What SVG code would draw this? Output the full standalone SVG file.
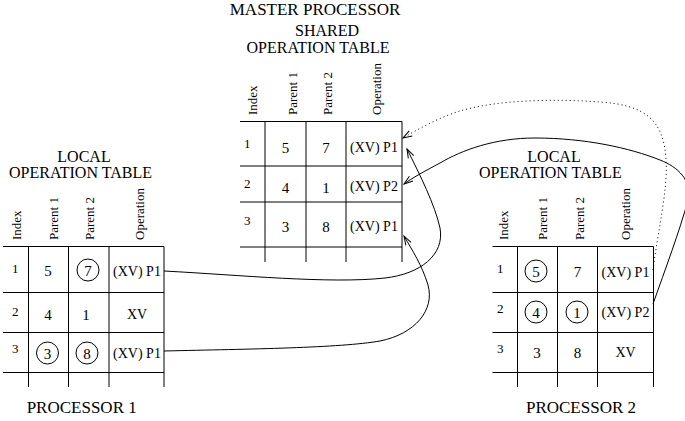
<svg xmlns="http://www.w3.org/2000/svg" width="685" height="421" viewBox="0 0 685 421">
<style>
text{font-family:"Liberation Serif","Times New Roman",serif;fill:#000}
.t{font-size:16px;text-anchor:middle}
.h{font-size:13px}
.i{font-size:13px}
.v{font-size:15px;text-anchor:middle}
.o{font-size:14px;text-anchor:middle}
.g{stroke:#000;stroke-width:1;fill:none}
.c{stroke:#000;stroke-width:1;fill:none}
.conn{stroke:#000;stroke-width:1;fill:none}
.dot{stroke-dasharray:1 3}
</style>
<defs>
<marker id="arr" viewBox="-10 -5 12 10" refX="0" refY="0" markerWidth="12" markerHeight="10" markerUnits="userSpaceOnUse" orient="auto">
<path d="M-9,-3 L0,0 L-9,3" fill="none" stroke="#000" stroke-width="1"/>
</marker>
</defs>
<g id="master">
<text class="t" x="315" y="15" style="font-size:17px">MASTER PROCESSOR</text>
<text class="t" x="327" y="36">SHARED</text>
<text class="t" x="318" y="53">OPERATION TABLE</text>
<text class="h" transform="translate(256.5,115) rotate(-90)">Index</text>
<text class="h" transform="translate(297,115) rotate(-90)">Parent 1</text>
<text class="h" transform="translate(331.5,115) rotate(-90)">Parent 2</text>
<text class="h" transform="translate(380.5,115) rotate(-90)">Operation</text>
<path class="g" d="M240,121.5H402M240,166H402M240,202H402M240,247H402M265,121.5V262M306,121.5V262M346,121.5V262M402,121.5V262"/>
<text class="i" x="244" y="148">1</text>
<text class="i" x="244" y="188">2</text>
<text class="i" x="244" y="225">3</text>
<text class="v" x="285.5" y="153">5</text>
<text class="v" x="326" y="153">7</text>
<text class="o" x="374" y="152">(XV) P1</text>
<text class="v" x="285.5" y="193">4</text>
<text class="v" x="326" y="193">1</text>
<text class="o" x="374" y="191">(XV) P2</text>
<text class="v" x="285.5" y="232">3</text>
<text class="v" x="326" y="232">8</text>
<text class="o" x="374" y="231">(XV) P1</text>
</g>
<g id="processor1">
<text class="t" x="84" y="162">LOCAL</text>
<text class="t" x="80.5" y="177.5">OPERATION TABLE</text>
<text class="h" transform="translate(20.5,240) rotate(-90)">Index</text>
<text class="h" transform="translate(58,240) rotate(-90)">Parent 1</text>
<text class="h" transform="translate(94,240) rotate(-90)">Parent 2</text>
<text class="h" transform="translate(144,240) rotate(-90)">Operation</text>
<path class="g" d="M3,246.5H164M3,292.5H164M3,332.5H164M3,372.5H164M28.5,246.5V387M68.5,246.5V387M109,246.5V387M164,246.5V387"/>
<text class="i" x="12" y="273">1</text>
<text class="i" x="12" y="316">2</text>
<text class="i" x="12" y="353">3</text>
<text class="v" x="48" y="276">5</text>
<circle class="c" cx="88" cy="270" r="11"/>
<text class="v" x="88" y="275.5">7</text>
<text class="o" x="137" y="276">(XV) P1</text>
<text class="v" x="48" y="320">4</text>
<text class="v" x="86" y="320">1</text>
<text class="o" x="137" y="319">XV</text>
<circle class="c" cx="47.5" cy="353" r="11"/>
<text class="v" x="47.5" y="358.5">3</text>
<circle class="c" cx="87" cy="353" r="11"/>
<text class="v" x="87" y="358.5">8</text>
<text class="o" x="137" y="357.5">(XV) P1</text>
<text class="t" x="81.7" y="413" style="font-size:17px">PROCESSOR 1</text>
</g>
<g id="processor2">
<text class="t" x="554" y="162">LOCAL</text>
<text class="t" x="550.4" y="177.5">OPERATION TABLE</text>
<text class="h" transform="translate(508,240) rotate(-90)">Index</text>
<text class="h" transform="translate(547,240) rotate(-90)">Parent 1</text>
<text class="h" transform="translate(584,240) rotate(-90)">Parent 2</text>
<text class="h" transform="translate(630,240) rotate(-90)">Operation</text>
<path class="g" d="M492.5,246.5H653.5M492.5,292.5H653.5M492.5,332.5H653.5M492.5,372.5H653.5M517.5,246.5V387M557.5,246.5V387M597.5,246.5V387M653.5,246.5V387"/>
<text class="i" x="497" y="273">1</text>
<text class="i" x="497" y="313">2</text>
<text class="i" x="497" y="353">3</text>
<circle class="c" cx="536" cy="271" r="11"/>
<text class="v" x="536" y="276.5">5</text>
<text class="v" x="577.5" y="277">7</text>
<text class="o" x="625.5" y="277">(XV) P1</text>
<circle class="c" cx="536" cy="312" r="11"/>
<text class="v" x="536" y="317.5">4</text>
<circle class="c" cx="577" cy="312" r="11"/>
<text class="v" x="577" y="317.5">1</text>
<text class="o" x="625.5" y="317">(XV) P2</text>
<text class="v" x="537" y="357.5">3</text>
<text class="v" x="577.5" y="357.5">8</text>
<text class="o" x="625.5" y="357">XV</text>
<text class="t" x="581" y="413" style="font-size:17px">PROCESSOR 2</text>
</g>
<g id="connectors">
<path class="conn" marker-end="url(#arr)" d="M164,271 C240,275 330,284 385,278 C420,274 445,255 440,228 C435,205 420,175 407,149"/>
<path class="conn" marker-end="url(#arr)" d="M164,351 C250,349 340,348 380,341 C415,334 435,310 428,285 C422,265 412,250 404,236"/>
<path class="conn" marker-end="url(#arr)" d="M653,304 C665,270 680,230 688,200 C692,180 678,167 660,160 C630,148 585,138 535,138 C495,138 462,150 440,163 C425,171 412,178 404,184"/>
<path class="conn dot" marker-end="url(#arr)" d="M653,270 C658,230 668,190 666,160 C664,120 645,105 600,102 C560,99 500,99 460,111 C440,117 420,128 403,138"/>
</g>
</svg>
